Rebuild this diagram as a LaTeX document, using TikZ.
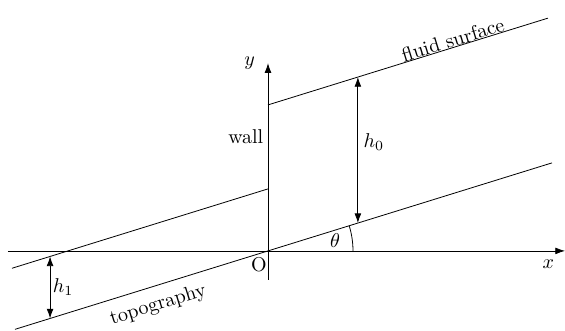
\documentclass[tikz,border=0pt]{standalone}
\usetikzlibrary{positioning,arrows.meta}

\begin{document}
\begin{tikzpicture}[>={Latex[length=1.7mm,width=1.2mm]}]

  \useasboundingbox (-4.71,-1.406) rectangle (5.22,4.41);

  % 坐标轴
  \coordinate (xL) at (-4.57,0);
  \coordinate (xR) at (5.22,0);
  \coordinate (yB) at (0,-0.51);
  \coordinate (yT) at (0,3.30);
  \coordinate (O) at (0,0);
  \draw[->] (xL) -- (xR);
  \draw[->] (yB) -- (yT);
  \node[below left=1pt and 2pt] (xlab) at (xR) {$x$};
  \node[left=3pt] (ylab) at (yT) {$y$};
  \node (olab) at (-0.16,-0.25) {O};

  % 底部地形 (过原点)
  \coordinate (tL) at (-4.446,-1.378);
  \coordinate (tR) at (4.991,1.547);
  \draw (tL) -- (tR);
  \node[rotate=17.2] (topo) at (-1.93,-0.95) {topography};

  % 自由面 (右侧)
  \coordinate (sA) at (0,2.566);
  \coordinate (sB) at (4.92,4.091);
  \draw (sA) -- (sB);
  \node[rotate=17.2] (surf) at (3.25,3.71) {fluid surface};

  % 自由面 (左侧)
  \coordinate (lA) at (-4.5,-0.305);
  \coordinate (lB) at (0,1.09);
  \draw (lA) -- (lB);
  \node (wall) at (-0.39,2.0) {wall};

  % 深度 h0, h1
  \coordinate (h0t) at (1.58,3.056);
  \coordinate (h0b) at (1.58,0.49);
  \draw[<->] (h0t) -- (h0b);
  \node (h0) at (1.86,1.92) {$h_0$};

  \coordinate (h1t) at (-3.83,-0.097);
  \coordinate (h1b) at (-3.83,-1.187);
  \draw[<->] (h1t) -- (h1b);
  \node (h1) at (-3.6,-0.63) {$h_1$};

  % 倾角
  \draw (1.494,0) arc (0:17.2:1.494);
  \node (theta) at (1.18,0.19) {$\theta$};

\end{tikzpicture}
\end{document}
